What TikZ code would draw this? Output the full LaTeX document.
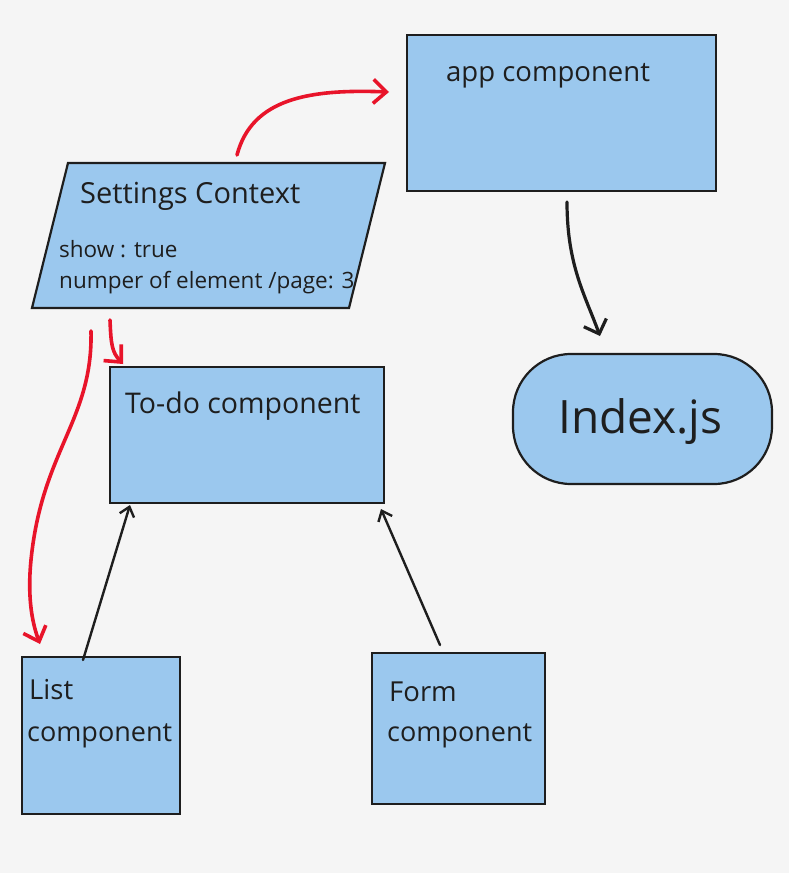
\documentclass[tikz,border=0pt]{standalone}
\usepackage{fontspec}
\setmainfont{Open Sans}
\usetikzlibrary{arrows.meta}
\definecolor{bgc}{HTML}{F5F5F5}
\definecolor{boxfill}{HTML}{9BC8EE}
\definecolor{ink}{HTML}{1E1E1E}
\definecolor{redink}{HTML}{E8142A}
\tikzset{
  box/.style={draw=ink, fill=boxfill, line width=2.2pt, inner sep=0pt},
  txt/.style={anchor=base west, inner sep=0pt, text=ink, font=\fontsize{27.5}{32}\selectfont},
  smalltxt/.style={txt, font=\fontsize{22.5}{26}\selectfont},
  redarrow/.style={draw=redink, line width=3.6pt, line cap=round,
    -{Straight Barb[length=13pt,width=24pt,line width=3.6pt]}},
  blackarrow/.style={draw=ink, line width=2.4pt, line cap=round,
    -{Straight Barb[length=9pt,width=15pt,line width=2.4pt]}},
  bigblackarrow/.style={draw=ink, line width=3.2pt, line cap=round,
    -{Straight Barb[length=12pt,width=24pt,line width=3.2pt]}},
}
\begin{document}
\begin{tikzpicture}[x=1pt,y=-1pt]
  \fill[bgc] (0,0) rectangle (789,873);
  \useasboundingbox (0,0) rectangle (789,873);

  % boxes
  \node[box, minimum width=309, minimum height=156] (app) at (561.5,113) {};
  \node[box, minimum width=274, minimum height=136] (todo) at (247,435) {};
  \node[box, minimum width=158, minimum height=157] (list) at (101,735.5) {};
  \node[box, minimum width=173, minimum height=151] (form) at (458.5,728.5) {};
  \node[box, minimum width=259, minimum height=130, rounded corners=58pt] (index) at (642.5,419) {};

  % settings context parallelogram
  \coordinate (sbl) at (32,308);
  \coordinate (stl) at (68,163);
  \coordinate (str) at (385,163);
  \coordinate (sbr) at (349,308);
  \draw[box] (sbl) -- (stl) -- (str) -- (sbr) -- cycle;

  % texts
  \node[txt] (tapp) at (446,81) {app component};
  \node[txt, font=\fontsize{29}{33}\selectfont] (tset) at (80,203) {Settings Context};
  \node[smalltxt] (tshow) at (59,257) {show : true};
  \node[smalltxt] (tnum) at (59,288) {numper of element /page: 3};
  \node[txt, font=\fontsize{28.5}{33}\selectfont] (ttodo) at (125,413) {To-do component};
  \node[txt] (tlist1) at (29,699) {List};
  \node[txt, font=\fontsize{27}{31}\selectfont] (tlist2) at (27,741) {component};
  \node[txt] (tform1) at (389,701) {Form};
  \node[txt, font=\fontsize{27}{31}\selectfont] (tform2) at (387,741) {component};
  \node[txt, font=\fontsize{46}{50}\selectfont] (tindex) at (558,433) {Index.js};

  % connector end points
  \coordinate (r1s) at (237,155);
  \coordinate (r1e) at (389,92);
  \coordinate (r2s) at (110,320);
  \coordinate (r2e) at (123,364);
  \coordinate (r3s) at (91,331);
  \coordinate (r3e) at (40,644);
  \coordinate (b1s) at (567,202);
  \coordinate (b1e) at (600,336);
  \coordinate (b2s) at (83,660);
  \coordinate (b2e) at (130,505);
  \coordinate (b3s) at (440,645);
  \coordinate (b3e) at (381,509);

  % red connectors
  \draw[redarrow] (r1s) .. controls (252,98) and (310,89) .. (r1e);
  \draw[redarrow] (r2s) .. controls (111,345) and (112,352) .. (r2e);
  \draw[redarrow] (r3s) .. controls (93,420) and (42,450) .. (31,560)
                        .. controls (27,600) and (33,625) .. (r3e);

  % black connectors
  \draw[bigblackarrow] (b1s) .. controls (567,265) and (585,295) .. (b1e);
  \draw[blackarrow] (b2s) -- (b2e);
  \draw[blackarrow] (b3s) -- (b3e);
\end{tikzpicture}
\end{document}
